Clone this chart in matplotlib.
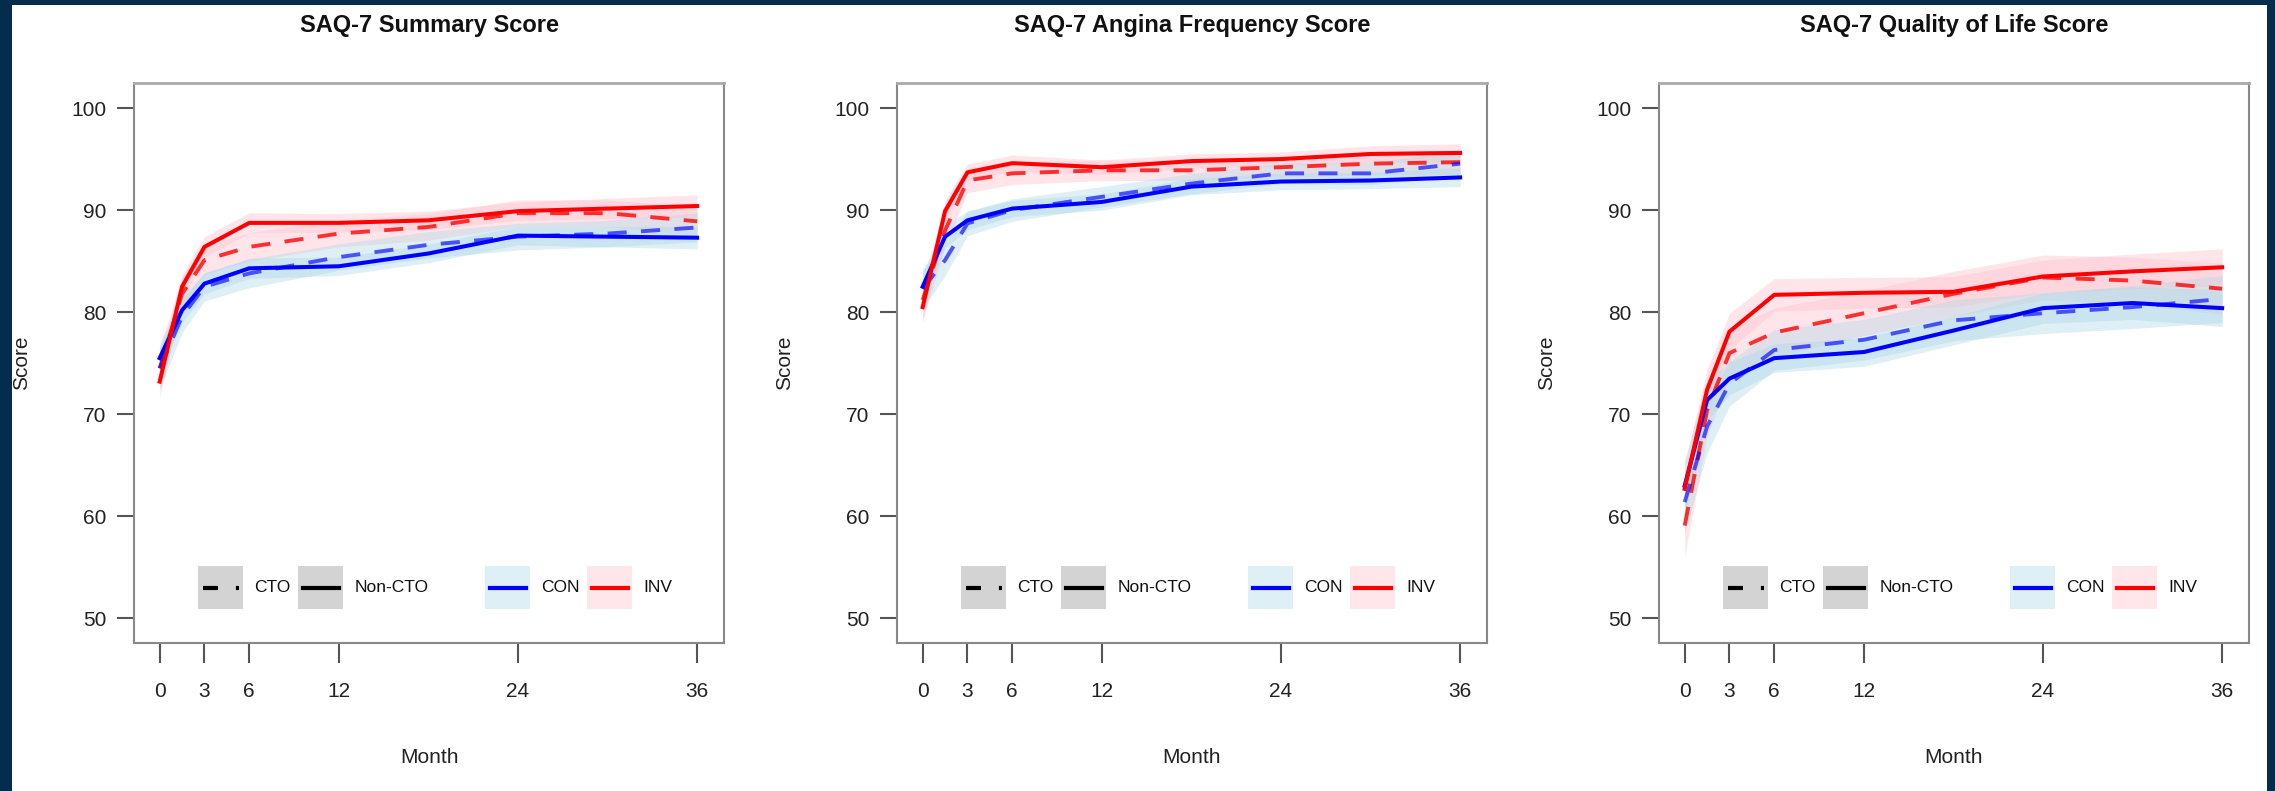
"""
SAQ-7 scores over 36 months by strategy (CON / INV) and CTO status.
Three panels: summary, angina frequency, quality of life.
"""
import matplotlib
matplotlib.use('Agg')
import matplotlib.pyplot as plt
from matplotlib.patches import Rectangle
from matplotlib.lines import Line2D

plt.rcParams['font.family'] = ['Liberation Sans', 'DejaVu Sans']

months = [0, 1.5, 3, 6, 12, 18, 24, 30, 36]
xticks = [0, 3, 6, 12, 24, 36]
yticks = [50, 60, 70, 80, 90, 100]
titles = ['SAQ-7 Summary Score', 'SAQ-7 Angina Frequency Score', 'SAQ-7 Quality of Life Score']

# --- SAQ-7 summary ---
sum_inv_non = [73.2, 82.5, 86.4, 88.75, 88.75, 89.0, 89.9, 90.15, 90.4]
sum_inv_cto = [74.5, 81.8, 85.1, 86.4, 87.7, 88.35, 89.7, 89.7, 88.9]
sum_con_non = [75.5, 80.2, 82.8, 84.3, 84.5, 85.75, 87.5, 87.4, 87.3]
sum_con_cto = [74.5, 79.6, 82.5, 83.8, 85.4, 86.6, 87.4, 87.7, 88.3]
sum_inv_non_ci = [1.5, 1.2, 1.0, 1.0, 0.9, 0.9, 0.9, 1.0, 1.1]
sum_inv_cto_ci = [2.0, 1.6, 1.4, 1.4, 1.3, 1.3, 1.3, 1.3, 1.4]
sum_con_non_ci = [1.5, 1.2, 1.0, 1.0, 0.9, 0.9, 0.9, 1.0, 1.1]
sum_con_cto_ci = [2.0, 1.6, 1.4, 1.4, 1.3, 1.3, 1.3, 1.3, 1.4]

# --- angina frequency ---
af_inv_non = [80.5, 89.9, 93.7, 94.6, 94.2, 94.8, 95.0, 95.5, 95.6]
af_inv_cto = [81.2, 88.0, 92.9, 93.6, 93.9, 93.9, 94.2, 94.55, 94.7]
af_con_non = [82.5, 87.4, 89.0, 90.15, 90.8, 92.3, 92.8, 92.9, 93.2]
af_con_cto = [82.3, 85.1, 88.7, 90.0, 91.3, 92.6, 93.6, 93.6, 94.55]
af_inv_non_ci = [1.5, 1.1, 0.8, 0.8, 0.7, 0.7, 0.7, 0.8, 0.9]
af_inv_cto_ci = [2.0, 1.5, 1.2, 1.1, 1.0, 1.0, 1.0, 1.1, 1.2]
af_con_non_ci = [1.5, 1.1, 0.9, 0.8, 0.8, 0.8, 0.8, 0.8, 0.9]
af_con_cto_ci = [2.0, 1.5, 1.2, 1.1, 1.0, 1.0, 1.0, 1.1, 1.2]

# --- quality of life ---
ql_inv_non = [62.7, 72.4, 78.1, 81.7, 81.9, 82.0, 83.5, 84.0, 84.4]
ql_inv_cto = [59.1, 70.4, 76.0, 78.0, 79.9, 81.8, 83.4, 83.1, 82.3]
ql_con_non = [63.0, 71.4, 73.5, 75.5, 76.1, 78.2, 80.4, 80.9, 80.4]
ql_con_cto = [61.4, 68.8, 73.0, 76.3, 77.3, 79.2, 79.9, 80.5, 81.3]
ql_inv_non_ci = [2.5, 2.0, 1.8, 1.6, 1.5, 1.5, 1.6, 1.7, 1.8]
ql_inv_cto_ci = [3.0, 2.6, 2.4, 2.4, 2.2, 2.2, 2.2, 2.3, 2.5]
ql_con_non_ci = [2.5, 2.0, 1.6, 1.4, 1.4, 1.4, 1.5, 1.6, 1.8]
ql_con_cto_ci = [3.0, 2.6, 2.2, 2.0, 2.0, 2.0, 2.0, 2.1, 2.3]

panels = [
    (sum_inv_non, sum_inv_cto, sum_con_non, sum_con_cto,
     sum_inv_non_ci, sum_inv_cto_ci, sum_con_non_ci, sum_con_cto_ci),
    (af_inv_non, af_inv_cto, af_con_non, af_con_cto,
     af_inv_non_ci, af_inv_cto_ci, af_con_non_ci, af_con_cto_ci),
    (ql_inv_non, ql_inv_cto, ql_con_non, ql_con_cto,
     ql_inv_non_ci, ql_inv_cto_ci, ql_con_non_ci, ql_con_cto_ci),
]

RED, BLUE = '#ff0000', '#0000ff'
PINK, LBLUE = '#ffc0cb', '#add8e6'
DASH = (0, (4.9, 3.7))
NAVY = '#032c4d'


def band(ax, y, ci, color):
    lo = [v - c for v, c in zip(y, ci)]
    hi = [v + c for v, c in zip(y, ci)]
    ax.fill_between(months, lo, hi, color=color, alpha=0.4, lw=0, zorder=2)


def draw_key(ax, x0, label, face, color, ls):
    w, h, yb = 0.0765, 0.0768, 0.0607
    ax.add_patch(Rectangle((x0, yb), w, h, transform=ax.transAxes,
                           facecolor=face, edgecolor='none', zorder=4))
    ax.add_line(Line2D([x0 + 0.1 * w, x0 + 0.9 * w], [yb + h / 2] * 2,
                       transform=ax.transAxes, color=color, lw=3.0,
                       linestyle=ls, zorder=5))
    ax.text(x0 + w + 0.019, yb + h / 2, label, transform=ax.transAxes,
            ha='left', va='center', fontsize=12.5, color='#111111')


fig = plt.figure(figsize=(22.75, 7.91), dpi=100)
fig.patch.set_facecolor(NAVY)
fig.add_artist(Rectangle((12 / 2275, 0), 2255 / 2275, 1 - 5 / 791,
                         transform=fig.transFigure, facecolor='white',
                         edgecolor='none', zorder=0))

lefts = [134 / 2275, 897 / 2275, 1659 / 2275]
for i, (left, title) in enumerate(zip(lefts, titles)):
    inv_non, inv_cto, con_non, con_cto, c1, c2, c3, c4 = panels[i]
    ax = fig.add_axes([left, 148 / 791, 590 / 2275, 560 / 791])
    ax.set_facecolor('white')

    band(ax, inv_non, c1, PINK)
    band(ax, inv_cto, c2, PINK)
    band(ax, con_non, c3, LBLUE)
    band(ax, con_cto, c4, LBLUE)
    # dashed CTO lines a little faded, solid non-CTO lines on top
    ax.plot(months, inv_cto, color=RED, lw=2.8, linestyle=DASH, alpha=0.8, zorder=2.5)
    ax.plot(months, con_cto, color=BLUE, lw=2.8, linestyle=DASH, alpha=0.65, zorder=2.5)
    ax.plot(months, con_non, color=BLUE, lw=2.9, zorder=3)
    ax.plot(months, inv_non, color=RED, lw=2.9, zorder=3)

    ax.set_xlim(-1.72, 37.8)
    ax.set_ylim(47.6, 102.45)
    ax.set_xticks(xticks)
    ax.set_yticks(yticks)
    ax.tick_params(axis='x', length=14.4, width=1.5, color='#555555',
                   pad=14, labelsize=15, labelcolor='#222222')
    ax.tick_params(axis='y', length=12, width=1.5, color='#555555',
                   pad=8, labelsize=15, labelcolor='#222222')
    for side, sp in ax.spines.items():
        sp.set_color('#888888' if side != 'top' else '#aaaaaa')
        sp.set_linewidth(1.5 if side != 'top' else 2.0)

    ax.set_xlabel('Month', fontsize=15, color='#222222')
    ax.xaxis.set_label_coords(0.5, -0.205)
    ax.xaxis.label.set_va('center')
    ax.set_ylabel('Score', fontsize=15, color='#222222')
    ax.yaxis.set_label_coords(-0.19, 0.5)
    ax.yaxis.label.set_va('center')

    ax.text(0.5, 1.102, title, transform=ax.transAxes, ha='center',
            va='center', fontsize=17, fontweight='bold', color='#111111')

    draw_key(ax, 0.1085, 'CTO', '#d3d3d3', 'black', (0, (3.6, 4.3)))
    draw_key(ax, 0.278, 'Non-CTO', '#d3d3d3', 'black', '-')
    draw_key(ax, 0.595, 'CON', '#deeff5', BLUE, '-')
    draw_key(ax, 0.768, 'INV', '#ffe6ea', RED, '-')

fig.savefig('out.png', dpi=100, facecolor=fig.get_facecolor())
plt.close(fig)
